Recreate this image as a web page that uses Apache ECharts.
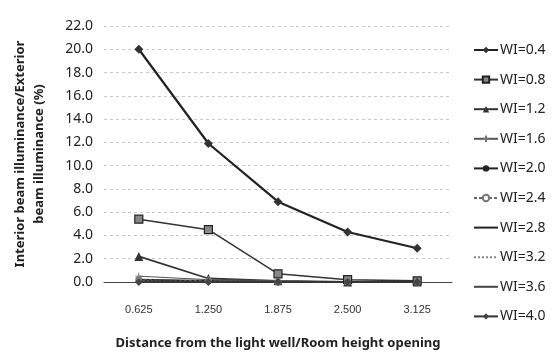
<!DOCTYPE html>
<html>
<head>
<meta charset="utf-8">
<script src="https://cdn.jsdelivr.net/npm/echarts@6/dist/echarts.min.js"></script>
<style>
  html, body { margin: 0; padding: 0; background: #fff; }
  #chart { width: 557px; height: 357px; }
</style>
</head>
<body>
<div id="chart"></div>
<script>
// Relative distance from the light well (category axis)
const categories = ['0.625', '1.250', '1.875', '2.500', '3.125'];

// Interior/exterior beam illuminance ratio (%) for each well index
const wi04 = [20.0, 11.9, 6.9, 4.3, 2.9];
const wi08 = [5.4, 4.5, 0.7, 0.2, 0.1];
const wi12 = [2.2, 0.3, 0.1, 0.0, 0.0];
const wi16 = [0.5, 0.2, 0.1, 0.0, 0.0];
const wi20 = [0.2, 0.1, 0.0, 0.0, 0.0];
const wi24 = [0.2, 0.1, 0.0, 0.0, 0.0];
const wi28 = [0.1, 0.0, 0.0, 0.0, 0.0];
const wi32 = [0.1, 0.0, 0.0, 0.0, 0.0];
const wi36 = [0.0, 0.0, 0.0, 0.0, 0.0];
const wi40 = [0.0, 0.0, 0.0, 0.0, 0.0];

const yTicks = { min: 0, max: 22, interval: 2 };

const crossPath = 'path://M0,5L10,5M5,0L5,10';
const clear = 'rgba(0,0,0,0)';

function line(name, data, opts) {
  return Object.assign({
    name: name,
    type: 'line',
    data: data,
    symbol: 'none',
    symbolSize: 7,
    lineStyle: { color: '#2b2b2b', width: 1.2 },
    itemStyle: { color: clear, borderColor: clear },
    emphasis: { disabled: true },
    animation: false
  }, opts);
}

const series = [
  line('WI=0.4', wi04, { symbol: 'diamond', symbolSize: 9, lineStyle: { color: '#222', width: 2.2 }, itemStyle: { color: '#333' } }),
  line('WI=0.8', wi08, { symbol: 'rect', symbolSize: 8, lineStyle: { color: '#333', width: 1.5 }, itemStyle: { color: '#888', borderColor: '#222', borderWidth: 1.2 } }),
  line('WI=1.2', wi12, { symbol: 'triangle', symbolSize: 9, lineStyle: { color: '#333', width: 1.8 }, itemStyle: { color: '#333' } }),
  line('WI=1.6', wi16, { symbol: crossPath, symbolSize: 7, lineStyle: { color: '#555', width: 1 }, itemStyle: { color: clear, borderColor: '#777', borderWidth: 1 } }),
  line('WI=2.0', wi20, { symbol: 'circle', symbolSize: 3, lineStyle: { color: '#222', width: 1.6 }, itemStyle: { color: '#222' } }),
  line('WI=2.4', wi24, { symbol: 'emptyCircle', symbolSize: 5, lineStyle: { color: '#666', width: 1, type: [3, 2] }, itemStyle: { color: '#777', borderColor: '#777', borderWidth: 1 } }),
  line('WI=2.8', wi28, { lineStyle: { color: '#222', width: 1.6 } }),
  line('WI=3.2', wi32, { lineStyle: { color: '#888', width: 1, type: [2, 2] } }),
  line('WI=3.6', wi36, { lineStyle: { color: '#444', width: 1 } }),
  line('WI=4.0', wi40, { symbol: 'diamond', symbolSize: 8, lineStyle: { color: '#333', width: 1.6 }, itemStyle: { color: '#444' } })
];

const chart = echarts.init(document.getElementById('chart'), null, { renderer: 'canvas' });

chart.setOption({
  backgroundColor: '#ffffff',
  animation: false,
  grid: { left: 104, right: 105, top: 26, bottom: 75, containLabel: false },
  legend: {
    orient: 'vertical',
    left: 468,
    top: 38,
    itemWidth: 24,
    itemHeight: 8,
    itemGap: 15.6,
    textStyle: { fontFamily: 'Noto Sans', fontSize: 14, color: '#222', padding: [0, 0, 0, -3] },
    data: series.map(s => s.name)
  },
  xAxis: {
    type: 'category',
    data: categories,
    boundaryGap: true,
    axisLine: { show: true, lineStyle: { color: '#444', width: 1 } },
    axisTick: { show: false },
    axisLabel: { margin: 22, fontFamily: 'Liberation Sans', fontSize: 11, color: '#333' },
    name: 'Distance from the light well/Room height opening',
    nameLocation: 'middle',
    nameGap: 55,
    nameTextStyle: { fontFamily: 'Noto Sans', fontWeight: 'bold', fontSize: 13, color: '#222' }
  },
  yAxis: {
    type: 'value',
    min: yTicks.min,
    max: yTicks.max,
    interval: yTicks.interval,
    axisLine: { show: false },
    axisTick: { show: false },
    axisLabel: {
      margin: 11,
      fontFamily: 'Noto Sans',
      fontSize: 14,
      color: '#222',
      formatter: v => v.toFixed(1)
    },
    splitLine: { show: true, lineStyle: { color: '#c8c8c8', type: [3, 3], width: 1 } },
    name: 'Interior beam illuminance/Exterior\nbeam illuminance (%)',
    nameLocation: 'middle',
    nameGap: 55,
    nameRotate: 90,
    nameTextStyle: { fontFamily: 'Noto Sans', fontWeight: 'bold', fontSize: 13, color: '#222', lineHeight: 19 }
  },
  series: series
});
</script>
</body>
</html>
